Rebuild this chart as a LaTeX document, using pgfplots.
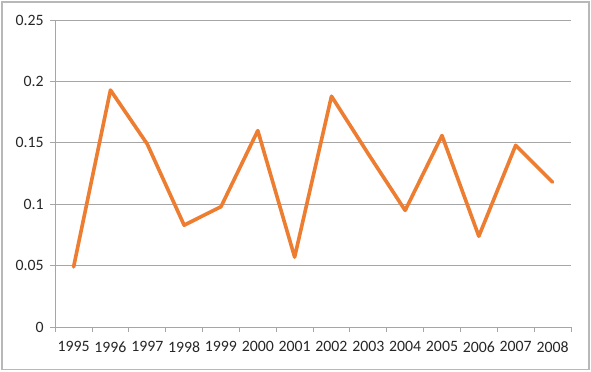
\documentclass[border=0pt]{standalone}
\usepackage{fontspec}
\setmainfont{Carlito}
\usepackage{pgfplots}
\pgfplotsset{compat=1.18}
\definecolor{lineorange}{HTML}{ED7D31}
\definecolor{gridgray}{HTML}{A6A6A6}
\definecolor{txt}{HTML}{262626}
\begin{document}
\begin{tikzpicture}
\useasboundingbox (-55bp,-44bp) rectangle (534bp,326bp);
\draw[gridgray!80, line width=1.2bp] (-53bp,-42bp) rectangle (532bp,324bp);
\begin{axis}[
  at={(0,0)}, anchor=south west,
  scale only axis, width=514bp, height=306bp,
  xmin=-0.5, xmax=13.5, ymin=0, ymax=0.25,
  axis x line*=bottom, axis y line*=left,
  axis line style={gridgray, line width=0.8bp, -},
  xtick={0,...,13},
  xticklabels={1995,1996,1997,1998,1999,2000,2001,2002,2003,2004,2005,2006,2007,2008},
  major x tick style={draw=none},
  minor xtick={-0.5,0.5,...,13.5},
  minor tick length=5bp,
  minor x tick style={gridgray, line width=0.8bp},
  ytick={0,0.05,0.1,0.15,0.2,0.25},
  yticklabels={0,0.05,0.1,0.15,0.2,0.25},
  major tick length=5bp,
  y tick style={gridgray, line width=0.8bp},
  tick align=outside,
  ymajorgrids, grid style={gridgray, line width=0.8bp},
  ticklabel style={font=\fontsize{15.8}{18}\selectfont, text=txt},
  xticklabel style={yshift=-6bp},
  yticklabel style={xshift=-3bp},
  clip=false,
]
\addplot[lineorange, line width=3.6bp, line join=round, line cap=round] coordinates {
(0,0.049) (1,0.193) (2,0.149) (3,0.083) (4,0.098) (5,0.160) (6,0.057)
(7,0.188) (8,0.141) (9,0.095) (10,0.156) (11,0.074) (12,0.148) (13,0.118)
};
\end{axis}
\end{tikzpicture}
\end{document}
